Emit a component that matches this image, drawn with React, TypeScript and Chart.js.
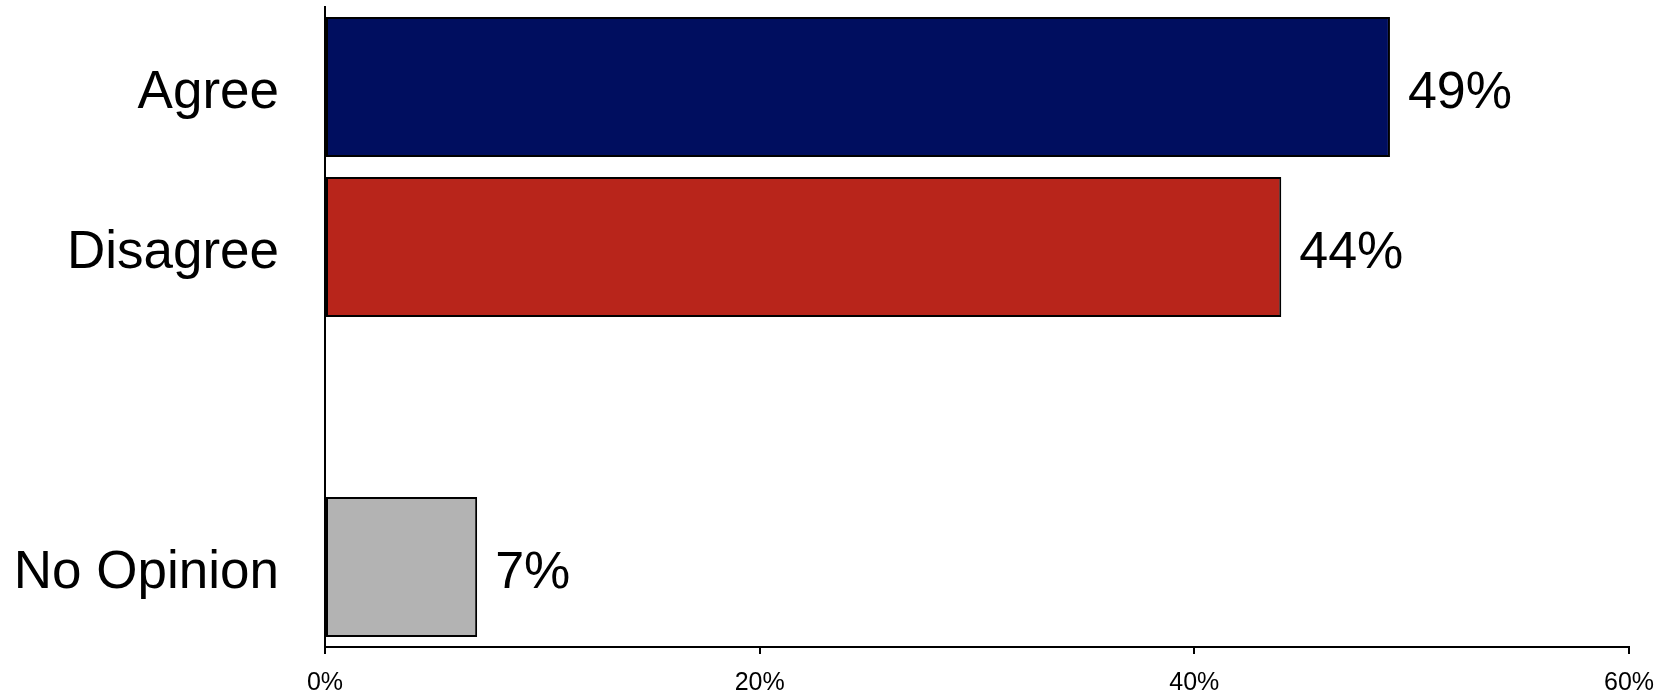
import React, { useEffect, useRef } from "react";
import { Chart, registerables } from "chart.js";

Chart.register(...registerables);

const categories: string[] = ["Agree", "Disagree", "", "No Opinion"];
const values: (number | null)[] = [49, 44, null, 7];
const barColors: string[] = ["#000E5F", "#B8251B", "#FFFFFF", "#B3B3B3"];
const xTicks: number[] = [0, 20, 40, 60];

const FONT = "'Liberation Sans', Arial, Helvetica, sans-serif";

const valueLabelPlugin = {
  id: "valueLabels",
  afterDatasetsDraw(chart: any) {
    const { ctx } = chart;
    const meta = chart.getDatasetMeta(0);
    ctx.save();
    ctx.font = `52px ${FONT}`;
    ctx.fillStyle = "#000000";
    ctx.textAlign = "left";
    ctx.textBaseline = "middle";
    meta.data.forEach((bar: any, i: number) => {
      const v = values[i];
      if (v === null || v === undefined) return;
      ctx.fillText(`${v}%`, bar.x + 18, bar.y + 7);
    });
    ctx.restore();
  },
};

export default function App() {
  const canvasRef = useRef<HTMLCanvasElement | null>(null);

  useEffect(() => {
    document.body.style.margin = "0";
    const canvas = canvasRef.current;
    if (!canvas) return;
    const chart = new Chart(canvas, {
      type: "bar",
      data: {
        labels: categories,
        datasets: [
          {
            data: values as any,
            backgroundColor: barColors,
            borderColor: "#000000",
            borderWidth: 2,
            borderSkipped: false,
            categoryPercentage: 1,
            barPercentage: 0.875,
          },
        ],
      },
      options: {
        indexAxis: "y",
        animation: false,
        responsive: true,
        maintainAspectRatio: false,
        layout: { padding: { left: 0, right: 40, top: 7, bottom: 0 } },
        plugins: {
          legend: { display: false },
          tooltip: { enabled: false },
          title: { display: false },
        },
        scales: {
          x: {
            type: "linear",
            min: 0,
            max: 60,
            afterBuildTicks: (scale: any) => {
              scale.ticks = xTicks.map((v) => ({ value: v }));
            },
            afterFit: (scale: any) => {
              scale.height = 48;
              scale.paddingLeft = 0;
              scale.paddingRight = 0;
            },
            grid: {
              display: true,
              drawOnChartArea: false,
              drawTicks: true,
              tickLength: 7,
              color: "#000000",
              lineWidth: 2,
            },
            border: { display: true, color: "#000000", width: 2 },
            ticks: {
              color: "#000000",
              font: { family: FONT, size: 25 },
              padding: 14,
              maxRotation: 0,
              callback: (v: any) => `${v}%`,
            },
          },
          y: {
            type: "category",
            offset: true,
            afterFit: (scale: any) => {
              scale.width = 325;
              scale.paddingTop = 0;
              scale.paddingBottom = 0;
            },
            grid: { display: false, drawTicks: false },
            border: { display: true, color: "#000000", width: 2 },
            ticks: {
              color: "#000000",
              font: { family: FONT, size: 53 },
              padding: 46,
              labelOffset: 6,
            },
          },
        },
      },
      plugins: [valueLabelPlugin],
    });
    return () => chart.destroy();
  }, []);

  return (
    <div style={{ position: "absolute", left: 0, top: 0, width: 1669, height: 695, background: "#FFFFFF" }}>
      <canvas ref={canvasRef} />
    </div>
  );
}
